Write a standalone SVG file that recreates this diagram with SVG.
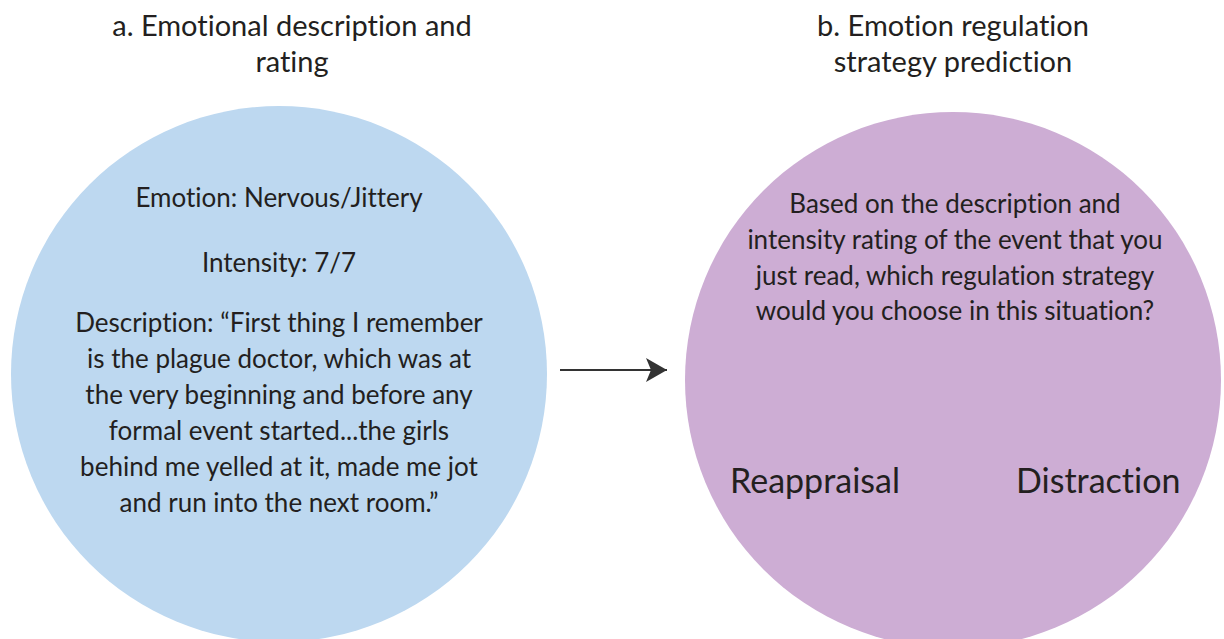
<svg xmlns="http://www.w3.org/2000/svg" width="1224" height="639" viewBox="0 0 1224 639">
  <style>
    text { font-variant-ligatures: none; font-feature-settings: "liga" 0; }
    .title { font-family: Lato, "Open Sans", sans-serif; font-size: 29px; fill: #231f20; text-anchor: middle; }
    .body { font-family: Lato, "Open Sans", sans-serif; font-size: 26px; fill: #231f20; text-anchor: middle; }
    .choice { font-family: Lato, "Open Sans", sans-serif; font-size: 34px; fill: #231f20; }
    .conn { stroke: #333333; stroke-width: 2.2; fill: none; }
  </style>
  <defs>
    <marker id="arrow" markerUnits="userSpaceOnUse" markerWidth="26" markerHeight="26" refX="21" refY="12" orient="auto">
      <path d="M0,0 L21,12 L0,24 L5,12 Z" fill="#333333"/>
    </marker>
  </defs>
  <rect width="1224" height="639" fill="#ffffff"/>

  <g id="title-a">
    <text class="title" x="292" y="36">a. Emotional description and</text>
    <text class="title" x="292" y="72">rating</text>
  </g>
  <g id="title-b">
    <text class="title" x="953" y="36">b. Emotion regulation</text>
    <text class="title" x="953" y="72">strategy prediction</text>
  </g>

  <g id="node-a">
    <circle cx="279" cy="374" r="268" fill="#bdd8f0"/>
    <text class="body" x="279" y="207">Emotion: Nervous/Jittery</text>
    <text class="body" x="279" y="272">Intensity: 7/7</text>
    <text class="body" x="279" y="332">Description: “First thing I remember</text>
    <text class="body" x="279" y="368">is the plague doctor, which was at</text>
    <text class="body" x="279" y="404">the very beginning and before any</text>
    <text class="body" x="279" y="440">formal event started...the girls</text>
    <text class="body" x="279" y="476">behind me yelled at it, made me jot</text>
    <text class="body" x="279" y="512">and run into the next room.”</text>
  </g>

  <g id="node-b">
    <circle cx="953" cy="380" r="268" fill="#cdadd4"/>
    <text class="body" x="955" y="213">Based on the description and</text>
    <text class="body" x="955" y="249">intensity rating of the event that you</text>
    <text class="body" x="955" y="285">just read, which regulation strategy</text>
    <text class="body" x="955" y="320">would you choose in this situation?</text>
    <text class="choice" x="730" y="493">Reappraisal</text>
    <text class="choice" x="1016" y="493">Distraction</text>
  </g>

  <g id="connectors">
    <line class="conn" x1="560" y1="370" x2="667" y2="370" marker-end="url(#arrow)"/>
  </g>
</svg>
